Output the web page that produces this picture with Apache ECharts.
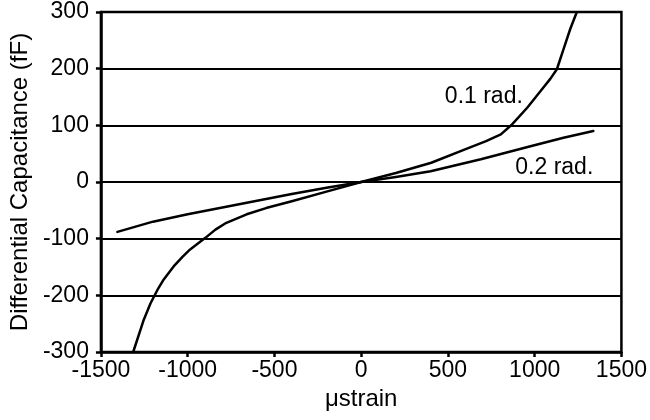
<!DOCTYPE html>
<html>
<head>
<meta charset="utf-8">
<script src="https://cdn.jsdelivr.net/npm/echarts@6/dist/echarts.min.js"></script>
<style>html,body{margin:0;padding:0;background:#fff}#c{width:650px;height:420px}</style>
</head>
<body>
<div id="c"></div>
<script>
var xTicks = [-1500, -1000, -500, 0, 500, 1000, 1500];
var yTicks = [-300, -200, -100, 0, 100, 200, 300];
var series01Name = '0.1 rad.';
var series01 = [[-1314,-300],[-1253,-243],[-1214,-214],[-1170,-188],[-1138,-172],[-1081,-149],[-1030,-132],[-986,-119],[-900,-99],[-840,-84],[-777,-72],[-660,-57],[-548,-46],[-400,-34],[-200,-17],[0,0],[200,16],[404,34],[595,57],[720,72],[805,84],[871,102],[957,131],[1033,160],[1090,182],[1128,199],[1166,234],[1205,270],[1243,300]];
var series02Name = '0.2 rad.';
var series02 = [[-1405,-88],[-1200,-70],[-1000,-57],[-800,-45],[-600,-33],[-400,-21],[-200,-10],[0,0],[200,9],[400,19],[690,40],[976,63],[1166,78],[1338,90]];
var label01At = [707, 151];
var label02At = [1113, 26];

var FONT = 'Liberation Sans';
var chart = echarts.init(document.getElementById('c'), null, {renderer: 'canvas'});
function lineSeries(name, data, at) {
  return {
    name: name, type: 'line', data: data, showSymbol: false, symbol: 'none',
    smooth: false,
    lineStyle: {color: '#000', width: 2.5, join: 'round', cap: 'round'}, z: 5,
    markPoint: {
      symbol: 'circle', symbolSize: 0, silent: true,
      label: {show: true, position: 'inside', formatter: name, color: '#000', fontSize: 23, fontFamily: FONT},
      data: [{coord: at}]
    }
  };
}
chart.setOption({
  animation: false,
  backgroundColor: '#fff',
  grid: {left: 97, right: 28, top: 12, bottom: 68, show: true, borderColor: '#000', borderWidth: 2.5, backgroundColor: 'transparent'},
  xAxis: {
    type: 'value', min: xTicks[0], max: xTicks[xTicks.length-1], interval: 500,
    name: 'μstrain', nameLocation: 'middle', nameGap: 32,
    nameTextStyle: {color: '#000', fontSize: 24, fontFamily: FONT},
    axisLine: {show: true, onZero: false, lineStyle: {color: '#000', width: 2.5}},
    axisTick: {show: true, inside: false, length: 5, lineStyle: {color: '#000', width: 2.5}},
    axisLabel: {color: '#000', fontSize: 23, fontFamily: FONT, margin: 7, formatter: function (v) { return String(v); }},
    splitLine: {show: false}
  },
  yAxis: {
    type: 'value', min: yTicks[0], max: yTicks[yTicks.length-1], interval: 100,
    name: 'Differential Capacitance (fF)', nameLocation: 'middle', nameGap: 66,
    nameTextStyle: {color: '#000', fontSize: 24, fontFamily: FONT},
    axisLine: {show: true, onZero: false, lineStyle: {color: '#000', width: 2.5}},
    axisTick: {show: true, inside: false, length: 5, lineStyle: {color: '#000', width: 2.5}},
    axisLabel: {color: '#000', fontSize: 23, fontFamily: FONT, margin: 12, formatter: function (v) { return String(v); }},
    splitLine: {show: true, lineStyle: {color: '#000', width: 2}}
  },
  series: [lineSeries(series01Name, series01, label01At), lineSeries(series02Name, series02, label02At)]
});
</script>
</body>
</html>
